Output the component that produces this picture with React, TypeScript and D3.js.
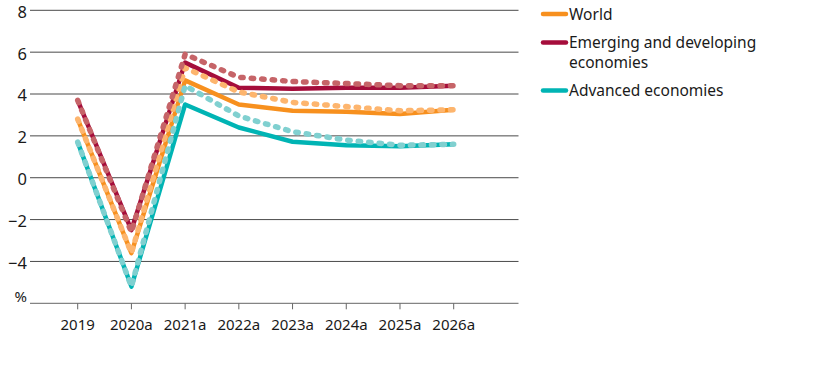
import React from 'react';
import * as d3 from 'd3';

const years = ['2019', '2020a', '2021a', '2022a', '2023a', '2024a', '2025a', '2026a'];
const yTicks = [8, 6, 4, 2, 0, -2, -4];

// solid lines
const worldNow = [2.8, -3.6, 4.65, 3.5, 3.2, 3.15, 3.05, 3.25];
const emergingNow = [3.7, -2.5, 5.5, 4.3, 4.25, 4.3, 4.3, 4.4];
const advancedNow = [1.7, -5.2, 3.5, 2.4, 1.72, 1.55, 1.5, 1.6];

// dotted lines
const worldPrev = [2.8, -3.6, 5.25, 4.1, 3.6, 3.4, 3.2, 3.25];
const emergingPrev = [3.7, -2.6, 5.9, 4.8, 4.6, 4.5, 4.4, 4.4];
const advancedPrev = [1.7, -5.2, 4.4, 2.95, 2.2, 1.8, 1.55, 1.6];

const series = [
  { name: 'World', now: worldNow, prev: worldPrev, color: '#f7901e', light: '#fdb56e' },
  { name: 'Emerging', now: emergingNow, prev: emergingPrev, color: '#a50d3b', light: '#c66468' },
  { name: 'Advanced', now: advancedNow, prev: advancedPrev, color: '#00b4b4', light: '#80d0d0' },
];

const legendItems = [
  { lines: ['World'], color: '#f7901e' },
  { lines: ['Emerging and developing', 'economies'], color: '#a50d3b' },
  { lines: ['Advanced economies'], color: '#00b4b4' },
];

const width = 816;
const height = 366;
const font = '"Noto Sans", "Open Sans", sans-serif';

export default function App() {
  const x = d3.scalePoint<string>().domain(years).range([77.7, 453.7]);
  const y = d3.scaleLinear().domain([-6, 8]).range([303.3, 10.3]);
  const gridLeft = 30;
  const gridRight = 518.5;

  const line = d3.line<number>()
    .x((_, i) => x(years[i]) as number)
    .y(d => y(d));

  return (
    <svg width={width} height={height} style={{ position: 'absolute', left: 0, top: 0, background: '#fff' }} fontFamily={font}>
      {yTicks.map(t => (
        <g key={t}>
          <line x1={gridLeft} x2={gridRight} y1={y(t)} y2={y(t)} stroke="#4a4a4a" strokeWidth={1} />
          <text x={27} y={y(t)} dy="0.45em" textAnchor="end" fontSize={16.5} fill="#1a1a1a">
            {t < 0 ? `\u2212${Math.abs(t)}` : t}
          </text>
        </g>
      ))}
      <line x1={gridLeft} x2={gridRight} y1={y(-6)} y2={y(-6)} stroke="#666" strokeWidth={1} />
      <text x={27} y={y(-6) - 1} textAnchor="end" fontSize={15} fill="#1a1a1a">%</text>
      {years.map(yr => (
        <g key={yr}>
          <line x1={x(yr)} x2={x(yr)} y1={y(-6)} y2={y(-6) + 6} stroke="#666" strokeWidth={1} />
          <text x={x(yr)} y={y(-6) + 27} textAnchor="middle" fontSize={15} fill="#1a1a1a">{yr}</text>
        </g>
      ))}

      {series.map(s => (
        <path key={s.name + 'now'} d={line(s.now) || ''} fill="none" stroke={s.color} strokeWidth={4.5} strokeLinejoin="round" />
      ))}
      {series.map(s => (
        <path key={s.name + 'prev'} d={line(s.prev) || ''} fill="none" stroke={s.light} strokeWidth={5.5}
          strokeDasharray="2.5 8" strokeLinecap="round" />
      ))}

      {(() => {
        let yy = 14;
        return legendItems.map((item, i) => {
          const top = yy;
          yy += item.lines.length === 2 ? 48 : 28.5;
          return (
            <g key={i}>
              <line x1={543} x2={566} y1={top} y2={top} stroke={item.color} strokeWidth={4.5} strokeLinecap="round" />
              {item.lines.map((l, j) => (
                <text key={j} x={569} y={top + j * 20} dy="0.36em" fontSize={15.5} fill="#1a1a1a">{l}</text>
              ))}
            </g>
          );
        });
      })()}
    </svg>
  );
}
